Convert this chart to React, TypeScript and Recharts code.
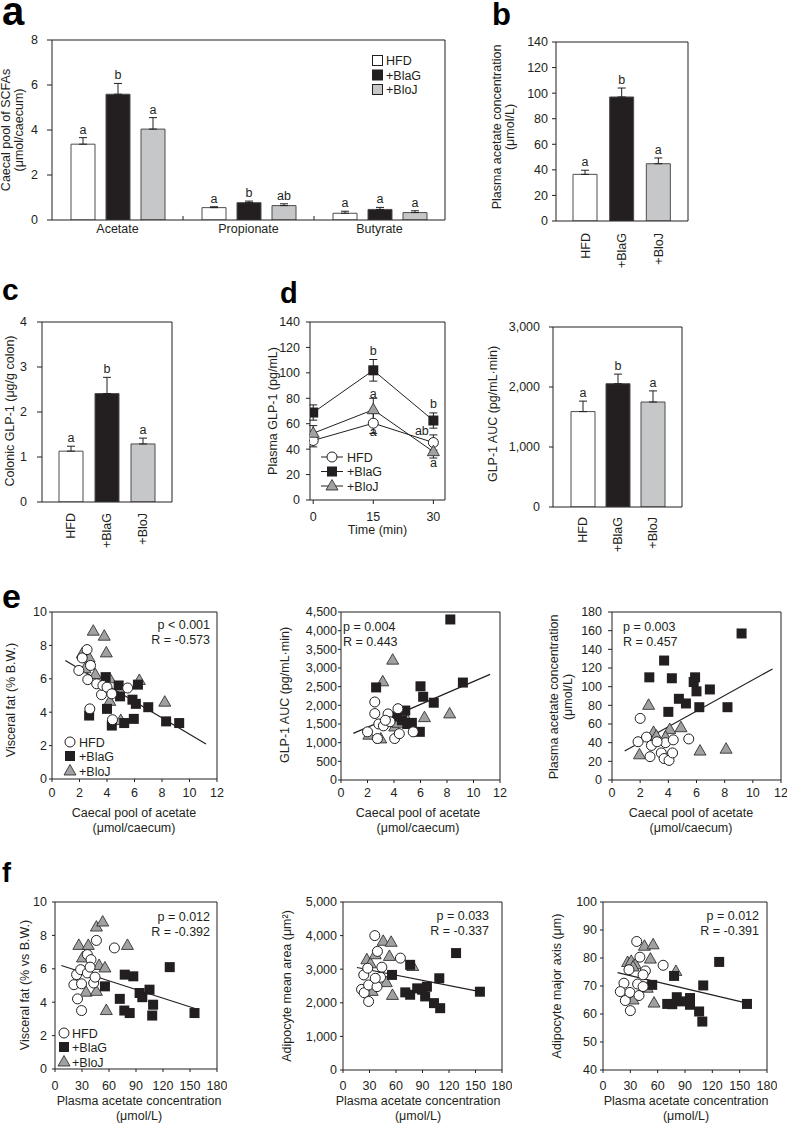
import React from "react";
import {
  Bar, BarChart, Cell, ErrorBar, LabelList, Line, LineChart,
  ReferenceLine, Scatter, ScatterChart, XAxis, YAxis,
} from "recharts";

const FONT = '"Liberation Sans", Arial, sans-serif';
const INK = "#231f20";
const FS = 12.5;
const GROUPS = ["HFD", "+BlaG", "+BloJ"];
const FILLS = ["#ffffff", "#231f20", "#c6c7c9"];
const EDGE = "#4d4d4f";
const TRI = "#a0a1a3";

// a: caecal SCFA pools (µmol/caecum)
const scfaNames = ["Acetate", "Propionate", "Butyrate"];
const scfaHfd = [3.37, 0.55, 0.3];
const scfaHfdErr = [0.29, 0.04, 0.09];
const scfaBlag = [5.59, 0.77, 0.47];
const scfaBlagErr = [0.48, 0.07, 0.09];
const scfaBloj = [4.04, 0.64, 0.33];
const scfaBlojErr = [0.51, 0.08, 0.08];
const scfaHfdLet = ["a", "a", "a"];
const scfaBlagLet = ["b", "b", "a"];
const scfaBlojLet = ["a", "ab", "a"];
const scfaTicks = [0, 2, 4, 6, 8];

// b: plasma acetate
const plasmaAc = [36.5, 97, 44.8];
const plasmaAcErr = [3.2, 7, 4.5];
const plasmaAcLet = ["a", "b", "a"];
const plasmaAcTicks = [0, 20, 40, 60, 80, 100, 120, 140];

// c: colonic GLP-1
const colonGlp = [1.13, 2.41, 1.29];
const colonGlpErr = [0.11, 0.36, 0.13];
const colonGlpLet = ["a", "b", "a"];
const colonTicks = [0, 1, 2, 3, 4];

// d: plasma GLP-1 time course + AUC
const glpTime = [0, 15, 30];
const glpHfd = [46.8, 60.4, 45.2];
const glpHfdErr = [5, 8, 6];
const glpBlag = [68.8, 102, 62.5];
const glpBlagErr = [6, 8.5, 6];
const glpBloj = [52.5, 71, 38];
const glpBlojErr = [6, 9, 5];
const glpHfdLet = ["", "a", "ab"];
const glpBlagLet = ["", "b", "b"];
const glpBlojLet = ["", "a", "a"];
const glpTicks = [0, 20, 40, 60, 80, 100, 120, 140];
const aucVals = [1590, 2055, 1750];
const aucErr = [175, 160, 185];
const aucLet = ["a", "b", "a"];
const aucTicks = [0, 1000, 2000, 3000];

// e: caecal acetate vs outcomes
const poolTicks = [0, 2, 4, 6, 8, 10, 12];
const fatTicks = [0, 2, 4, 6, 8, 10];
const e1HfdX = [1.95, 2.2, 2.55, 2.8, 2.6, 2.75, 3.25, 3.6, 3.7, 4.0, 4.35, 4.4, 5.5];
const e1HfdY = [6.5, 7.25, 7.75, 6.8, 5.95, 4.2, 5.7, 5.05, 5.6, 5.5, 5.1, 3.55, 5.45];
const e1BlagX = [2.7, 3.9, 4.0, 4.35, 4.85, 4.95, 5.25, 5.95, 5.85, 6.1, 7.0, 8.3, 9.25, 6.25];
const e1BlagY = [3.8, 6.1, 4.2, 3.2, 5.6, 4.95, 3.35, 3.6, 4.75, 4.5, 4.3, 3.45, 3.35, 5.65];
const e1BlojX = [3.0, 3.8, 3.95, 2.2, 2.7, 3.15, 4.2, 4.2, 5.0, 6.35, 8.2, 2.4];
const e1BlojY = [8.85, 8.55, 7.55, 7.5, 7.25, 6.25, 6.0, 4.65, 3.5, 5.9, 4.6, 6.6];
const e1FitX = [0.97, 11.2];
const e1FitY = [7.1, 2.1];

const aucScTicks = [0, 500, 1000, 1500, 2000, 2500, 3000, 3500, 4000, 4500];
const e2HfdX = [2.55, 2.55, 3.55, 4.3, 2.85, 3.2, 3.7, 2.0, 2.75, 4.05, 4.4, 5.45, 3.35];
const e2HfdY = [2090, 1780, 1770, 1910, 1500, 1450, 1560, 1290, 1110, 1110, 1240, 1290, 1600];
const e2BlagX = [2.65, 8.25, 6.0, 6.2, 7.0, 9.2, 4.85, 5.35, 5.95, 4.6, 5.0, 4.2];
const e2BlagY = [2480, 4300, 2510, 2230, 2070, 2610, 1860, 1530, 1290, 1600, 1500, 1700];
const e2BlojX = [3.9, 3.15, 6.3, 8.2, 5.0, 2.1, 3.0, 4.05, 4.3];
const e2BlojY = [3210, 2630, 1670, 1770, 1600, 1200, 1100, 1420, 1520];
const e2FitX = [0.93, 11.25];
const e2FitY = [1250, 2830];

const plasmaScTicks = [0, 20, 40, 60, 80, 100, 120, 140, 160, 180];
const e3HfdX = [2.0, 1.85, 2.45, 2.8, 2.7, 3.5, 3.7, 3.8, 4.05, 4.3, 4.35, 5.45, 3.2];
const e3HfdY = [66, 41, 46, 37, 25, 29, 23, 40, 21, 29, 43, 44, 41];
const e3BlagX = [2.65, 3.7, 4.25, 4.0, 4.75, 5.25, 5.9, 5.8, 6.0, 6.2, 6.95, 8.2, 9.2];
const e3BlagY = [110, 128, 109, 73, 87, 82, 110, 105, 95, 78, 97, 78, 157];
const e3BlojX = [2.6, 1.95, 2.95, 3.15, 4.1, 4.9, 3.8, 6.25, 8.1];
const e3BlojY = [80, 27, 51, 47, 54, 56, 46, 31, 33];
const e3FitX = [0.9, 11.4];
const e3FitY = [31, 119];

// f: plasma acetate vs outcomes
const acXTicks = [0, 30, 60, 90, 120, 150, 180];
const f1HfdX = [25, 29.5, 21, 24, 28.5, 36, 40, 46, 66, 29.5, 36, 43, 44.5, 39];
const f1HfdY = [4.2, 3.5, 5.05, 5.65, 5.95, 6.85, 6.55, 7.7, 7.25, 5.1, 5.75, 5.15, 5.5, 6.1];
const f1BlagX = [55.5, 72, 77.5, 87, 77, 83, 94, 97, 105, 109, 108, 127.5, 155];
const f1BlagY = [4.95, 4.2, 5.65, 5.55, 3.5, 3.35, 4.55, 4.3, 4.75, 3.85, 3.2, 6.1, 3.35];
const f1BlojX = [26.5, 37, 46, 53, 80.5, 30.5, 49, 55.5, 34.5, 46, 57];
const f1BlojY = [7.4, 7.4, 8.5, 8.8, 7.4, 6.65, 6.2, 6.05, 4.6, 4.65, 3.5];
const f1FitX = [7, 160];
const f1FitY = [6.2, 3.55];

const areaTicks = [0, 1000, 2000, 3000, 4000, 5000];
const f2HfdX = [36, 39, 65, 21, 24, 23.5, 28, 29, 29, 38.5, 42.5, 44, 36.5];
const f2HfdY = [4000, 3530, 3330, 2400, 2300, 2830, 3030, 2040, 2530, 2480, 2760, 3060, 2730];
const f2BlagX = [55.5, 76, 70.5, 76, 84, 89.5, 95, 93, 103, 110, 109, 128, 155];
const f2BlagY = [2830, 3130, 2310, 2240, 2430, 2390, 2480, 2190, 1990, 1840, 2730, 3480, 2330];
const f2BlojX = [27, 31, 36.5, 45.5, 54.5, 52.5, 33, 49, 56, 79];
const f2BlojY = [3280, 3160, 3430, 3830, 3800, 3380, 2340, 2600, 2220, 3080];
const f2FitX = [15.8, 153.6];
const f2FitY = [3050, 2340];

const axisTicks = [40, 50, 60, 70, 80, 90, 100];
const f3HfdX = [37, 40.5, 66, 28.5, 46.5, 44, 23, 19, 24.5, 29.5, 30, 39.5, 38, 44];
const f3HfdY = [85.9, 80.3, 77.4, 75.8, 75.4, 74, 71, 68, 64.8, 67.7, 61.2, 66.6, 70.7, 69.8];
const f3BlagX = [54, 78, 70.5, 76, 81, 86, 95.5, 95.5, 105.5, 109, 110, 127.5, 158];
const f3BlagY = [70.4, 73.6, 63.6, 63.5, 66, 64.5, 65.7, 63.3, 60.9, 57.3, 70.2, 78.6, 63.6];
const f3BlojX = [27, 31, 35.5, 45.5, 55, 52, 33, 48.5, 33, 56, 80];
const f3BlojY = [78.4, 78.8, 77.6, 84.2, 84.7, 79.6, 76.8, 69.2, 65, 63.9, 75.2];
const f3FitX = [16, 158];
const f3FitY = [74.8, 63.9];

// ---- layout helpers ----
type Plot = { x: number; y: number; w: number; h: number; l: number; t: number; r: number; b: number };
const W = (p: Plot) => p.w + p.l + p.r;
const H = (p: Plot) => p.h + p.t + p.b;
const lx = (p: Plot, X: number) => X - p.x + p.l;
const ly = (p: Plot, Y: number) => Y - p.y + p.t;
const LINE = { stroke: INK, strokeWidth: 1 };
const TICK = { fill: INK, fontSize: FS };
const thou = (v: number) => v.toLocaleString("en-US");
const zip = (xs: number[], ys: number[]) => xs.map((x, i) => ({ x, y: ys[i] }));
const last = (a: number[]) => a[a.length - 1];

function Holder({ p, children }: { p: Plot; children: React.ReactNode }) {
  return (
    <div style={{ position: "absolute", left: p.x - p.l, top: p.y - p.t, width: W(p), height: H(p) }}>
      {children}
      <svg width={W(p)} height={H(p)} style={{ position: "absolute", left: 0, top: 0, pointerEvents: "none" }}>
        <path d={`M${p.l} ${p.t}H${p.l + p.w}V${p.t + p.h}`} fill="none" stroke={INK} strokeWidth={1} />
      </svg>
    </div>
  );
}

const vTitle = (lines: string[], bx: number, cy: number) => () => (
  <text transform={`rotate(-90 ${bx} ${cy})`} x={bx} y={cy} textAnchor="middle" fill={INK} fontSize={FS}>
    {lines.map((s, i) => (
      <tspan key={i} x={bx} dy={i ? 13.5 : 0}>{s}</tspan>
    ))}
  </text>
);

const hTitle = (lines: string[], cx: number, by: number) => () => (
  <text x={cx} y={by} textAnchor="middle" fill={INK} fontSize={FS}>
    {lines.map((s, i) => (
      <tspan key={i} x={cx} dy={i ? 15 : 0}>{s}</tspan>
    ))}
  </text>
);

const RotTick = (props: any) => {
  const { x, y, payload } = props;
  return (
    <text x={x} y={y} transform={`rotate(-90 ${x} ${y})`} textAnchor="end" dy="0.35em" fill={INK} fontSize={FS}>
      {payload.value}
    </text>
  );
};

const barLetter = (letters: string[], vals: number[], errs: number[]) => (props: any) => {
  const vb = props.viewBox ?? {};
  const x = props.x ?? vb.x;
  const y = props.y ?? vb.y;
  const w = props.width ?? vb.width;
  const h = props.height ?? vb.height;
  const i = props.index;
  const top = y - (errs[i] * h) / vals[i];
  return (
    <text x={x + w / 2} y={top - 4} textAnchor="middle" fill={INK} fontSize={FS}>{letters[i]}</text>
  );
};

const lineLetter = (letters: string[], offs: number[][]) => (props: any) => {
  const vb = props.viewBox ?? {};
  const x = props.x ?? vb.x;
  const y = props.y ?? vb.y;
  const i = props.index;
  if (!letters[i]) return null;
  return (
    <text x={x + offs[i][0]} y={y + offs[i][1]} textAnchor="middle" fill={INK} fontSize={FS}>{letters[i]}</text>
  );
};

const circleShape = (s: any) => <circle cx={s.cx} cy={s.cy} r={5} fill="#fff" stroke={INK} strokeWidth={1} />;
const squareShape = (s: any) => <rect x={s.cx - 5} y={s.cy - 5} width={10} height={10} fill={INK} />;
const triShape = (s: any) => (
  <path
    d={`M${s.cx} ${s.cy - 6.5}L${s.cx + 6} ${s.cy + 4}L${s.cx - 6} ${s.cy + 4}Z`}
    fill={TRI} stroke={INK} strokeWidth={0.8}
  />
);
const SHAPES = [circleShape, squareShape, triShape];

// ---- panel a ----
const PA: Plot = { x: 52, y: 40, w: 393, h: 180, l: 52, t: 10, r: 12, b: 30 };
function ScfaPanel() {
  const data = scfaNames.map((name, i) => ({
    name,
    hfd: scfaHfd[i], hfdE: [0, scfaHfdErr[i]],
    blag: scfaBlag[i], blagE: [0, scfaBlagErr[i]],
    bloj: scfaBloj[i], blojE: [0, scfaBlojErr[i]],
  }));
  const series = [
    { k: "hfd", v: scfaHfd, e: scfaHfdErr, l: scfaHfdLet },
    { k: "blag", v: scfaBlag, e: scfaBlagErr, l: scfaBlagLet },
    { k: "bloj", v: scfaBloj, e: scfaBlojErr, l: scfaBlojLet },
  ];
  const p = PA;
  return (
    <Holder p={p}>
      <BarChart width={W(p)} height={H(p)} data={data} margin={{ top: p.t, right: p.r, bottom: 0, left: 0 }} barSize={24} barGap={11}>
        <XAxis dataKey="name" height={p.b} axisLine={LINE} tickLine={false} tickSize={0} tickMargin={4} tick={TICK} interval={0} />
        <YAxis
          width={p.l} domain={[0, last(scfaTicks)]} ticks={scfaTicks} interval={0} allowDataOverflow
          axisLine={LINE} tickLine={LINE} tickSize={5} tickMargin={9} tick={TICK}
          label={vTitle(["Caecal pool of SCFAs", "(μmol/caecum)"], lx(p, 9.5), ly(p, 130))}
        />
        {series.map((s, gi) => (
          <Bar key={s.k} dataKey={s.k} fill={FILLS[gi]} stroke={EDGE} strokeWidth={1} isAnimationActive={false}>
            <ErrorBar dataKey={`${s.k}E`} width={4} stroke={INK} strokeWidth={1} direction="y" />
            <LabelList dataKey={s.k} content={barLetter(s.l, s.v, s.e)} />
          </Bar>
        ))}
        {scfaNames.slice(1).map((c) => (
          <ReferenceLine key={c} segment={[{ x: c, y: 0 }, { x: c, y: 0.18 }]} position="start" stroke={INK} ifOverflow="visible" />
        ))}
      </BarChart>
    </Holder>
  );
}

// ---- three-bar panels (b, c, d right) ----
type TrioProps = {
  p: Plot; vals: number[]; errs: number[]; letters: string[]; ticks: number[];
  title: string[]; titleX: number; titleCy: number; yGap: number[]; xGap: number; pad: number;
  fmt?: (v: number) => string;
};
function Trio({ p, vals, errs, letters, ticks, title, titleX, titleCy, yGap, xGap, pad, fmt }: TrioProps) {
  const data = GROUPS.map((g, i) => ({ name: g, v: vals[i], e: [0, errs[i]] }));
  return (
    <Holder p={p}>
      <BarChart width={W(p)} height={H(p)} data={data} margin={{ top: p.t, right: p.r, bottom: 0, left: 0 }} barSize={24}>
        <XAxis
          dataKey="name" height={p.b} axisLine={LINE} tickLine={false} tickSize={0} tickMargin={xGap}
          tick={<RotTick />} interval={0} padding={{ left: pad, right: pad }}
        />
        <YAxis
          width={p.l} domain={[0, last(ticks)]} ticks={ticks} interval={0} allowDataOverflow
          axisLine={LINE} tickLine={LINE} tickSize={yGap[0]} tickMargin={yGap[1]} tick={TICK} tickFormatter={fmt}
          label={vTitle(title, lx(p, titleX), ly(p, titleCy))}
        />
        <Bar dataKey="v" stroke={EDGE} strokeWidth={1} isAnimationActive={false}>
          {data.map((_, i) => (
            <Cell key={i} fill={FILLS[i]} />
          ))}
          <ErrorBar dataKey="e" width={4} stroke={INK} strokeWidth={1} direction="y" />
          <LabelList dataKey="v" content={barLetter(letters, vals, errs)} />
        </Bar>
      </BarChart>
    </Holder>
  );
}

// ---- panel d line ----
const PDL: Plot = { x: 310, y: 322, w: 135, h: 178, l: 50, t: 10, r: 10, b: 40 };
const hfdOffs = [[0, 0], [0, 13], [-11.5, -8]];
const blagOffs = [[0, 0], [0, -15], [0, -13]];
const blojOffs = [[0, 0], [0, -12], [0, 15]];
function GlpLine() {
  const p = PDL;
  const data = glpTime.map((t, i) => ({
    t, hfd: glpHfd[i], hfdE: glpHfdErr[i], blag: glpBlag[i], blagE: glpBlagErr[i], bloj: glpBloj[i], blojE: glpBlojErr[i],
  }));
  const lines = [
    { k: "hfd", l: glpHfdLet, o: hfdOffs },
    { k: "blag", l: glpBlagLet, o: blagOffs },
    { k: "bloj", l: glpBlojLet, o: blojOffs },
  ];
  return (
    <Holder p={p}>
      <LineChart width={W(p)} height={H(p)} data={data} margin={{ top: p.t, right: p.r, bottom: 0, left: 0 }}>
        <XAxis
          dataKey="t" type="number" domain={[-0.8, 32.9]} ticks={glpTime} interval={0} allowDataOverflow height={p.b}
          axisLine={LINE} tickLine={LINE} tickSize={4} tickMargin={8} tick={TICK}
          label={hTitle(["Time (min)"], lx(p, 377.5), ly(p, 534))}
        />
        <YAxis
          width={p.l} domain={[0, last(glpTicks)]} ticks={glpTicks} interval={0} allowDataOverflow
          axisLine={LINE} tickLine={LINE} tickSize={4} tickMargin={6} tick={TICK}
          label={vTitle(["Plasma GLP-1 (pg/mL)"], lx(p, 277), ly(p, 411))}
        />
        {lines.map((s, gi) => (
          <Line
            key={s.k} dataKey={s.k} stroke={INK} strokeWidth={1} isAnimationActive={false}
            dot={(d: any) => <g key={`${s.k}${d.index}`}>{SHAPES[gi]({ cx: d.cx, cy: d.cy })}</g>}
          >
            <ErrorBar dataKey={`${s.k}E`} width={4} stroke={INK} strokeWidth={1} direction="y" />
            <LabelList dataKey={s.k} content={lineLetter(s.l, s.o)} />
          </Line>
        ))}
      </LineChart>
    </Holder>
  );
}

// ---- scatter panels ----
type Cloudy = {
  p: Plot; xTicks: number[]; yTicks: number[];
  hx: number[]; hy: number[]; gx: number[]; gy: number[]; jx: number[]; jy: number[];
  fx: number[]; fy: number[];
  yTitle: string[]; yTitleX: number; yTitleCy: number;
  xTitle: string[]; xTitleCx: number; xTitleY: number;
  yGap: number[]; xGap: number[]; yFmt?: (v: number) => string;
};
function Cloud(c: Cloudy) {
  const { p } = c;
  return (
    <Holder p={p}>
      <ScatterChart width={W(p)} height={H(p)} margin={{ top: p.t, right: p.r, bottom: 0, left: 0 }}>
        <XAxis
          type="number" dataKey="x" domain={[c.xTicks[0], last(c.xTicks)]} ticks={c.xTicks} interval={0} allowDataOverflow
          height={p.b} axisLine={LINE} tickLine={LINE} tickSize={c.xGap[0]} tickMargin={c.xGap[1]} tick={TICK}
          label={hTitle(c.xTitle, lx(p, c.xTitleCx), ly(p, c.xTitleY))}
        />
        <YAxis
          type="number" dataKey="y" width={p.l} domain={[c.yTicks[0], last(c.yTicks)]} ticks={c.yTicks} interval={0} allowDataOverflow
          axisLine={LINE} tickLine={LINE} tickSize={c.yGap[0]} tickMargin={c.yGap[1]} tick={TICK} tickFormatter={c.yFmt}
          label={vTitle(c.yTitle, lx(p, c.yTitleX), ly(p, c.yTitleCy))}
        />
        <ReferenceLine
          segment={[{ x: c.fx[0], y: c.fy[0] }, { x: c.fx[1], y: c.fy[1] }]}
          stroke={INK} strokeWidth={1.2} ifOverflow="visible"
        />
        <Scatter data={zip(c.jx, c.jy)} shape={triShape} isAnimationActive={false} />
        <Scatter data={zip(c.gx, c.gy)} shape={squareShape} isAnimationActive={false} />
        <Scatter data={zip(c.hx, c.hy)} shape={circleShape} isAnimationActive={false} />
      </ScatterChart>
    </Holder>
  );
}

// ---- overlay text: panel tags, statistics, legends ----
const TAGS = [
  { s: "a", x: 2, y: 25, f: 40 },
  { s: "b", x: 492, y: 25, f: 31 },
  { s: "c", x: 2, y: 300, f: 30 },
  { s: "d", x: 280, y: 303, f: 29 },
  { s: "e", x: 2, y: 608, f: 34 },
  { s: "f", x: 2, y: 882, f: 27 },
];
const STATS = [
  { l: ["p < 0.001", "R = -0.573"], x: 210, y: 629, a: "end" },
  { l: ["p = 0.004", "R = 0.443"], x: 343, y: 631, a: "start" },
  { l: ["p = 0.003", "R = 0.457"], x: 623, y: 631, a: "start" },
  { l: ["p = 0.012", "R = -0.392"], x: 210, y: 921, a: "end" },
  { l: ["p = 0.033", "R = -0.337"], x: 489, y: 920, a: "end" },
  { l: ["p = 0.012", "R = -0.391"], x: 759, y: 920, a: "end" },
];
const KEYS = [
  { x: 70, ys: [742, 756, 771], tx: 79, line: 0 },
  { x: 64, ys: [1033, 1047, 1062], tx: 72, line: 0 },
  { x: 332, ys: [457, 471.5, 486], tx: 347, line: 11 },
];

function Overlay() {
  return (
    <svg width={787} height={1126} style={{ position: "absolute", left: 0, top: 0, pointerEvents: "none" }} fontFamily={FONT}>
      {TAGS.map((t) => (
        <text key={t.s} x={t.x} y={t.y} fontSize={t.f} fontWeight="bold" fill="#000">{t.s}</text>
      ))}
      {STATS.map((s, i) => (
        <text key={i} x={s.x} y={s.y} textAnchor={s.a as any} fontSize={FS} fill={INK}>
          {s.l.map((t, j) => (
            <tspan key={j} x={s.x} dy={j ? 14.5 : 0}>{t}</tspan>
          ))}
        </text>
      ))}
      {KEYS.map((k, ki) => (
        <g key={ki}>
          {GROUPS.map((g, i) => (
            <g key={g}>
              {k.line > 0 && <line x1={k.x - k.line} x2={k.x + k.line} y1={k.ys[i]} y2={k.ys[i]} stroke={INK} strokeWidth={1} />}
              {SHAPES[i]({ cx: k.x, cy: k.ys[i] })}
              <text x={k.tx} y={k.ys[i] + 4.5} fontSize={FS} fill={INK}>{g}</text>
            </g>
          ))}
        </g>
      ))}
      {GROUPS.map((g, i) => (
        <g key={g}>
          <rect x={372.5} y={55.5 + i * 14.5} width={10} height={10} fill={FILLS[i]} stroke={INK} strokeWidth={1} />
          <text x={386} y={65 + i * 14.5} fontSize={FS} fill={INK}>{g}</text>
        </g>
      ))}
    </svg>
  );
}

export default function App() {
  return (
    <div style={{ position: "absolute", left: 0, top: 0, width: 787, height: 1126, background: "#fff", fontFamily: FONT, overflow: "hidden" }}>
      <ScfaPanel />
      <Trio
        p={{ x: 556, y: 42, w: 132, h: 179, l: 72, t: 10, r: 10, b: 50 }}
        vals={plasmaAc} errs={plasmaAcErr} letters={plasmaAcLet} ticks={plasmaAcTicks}
        title={["Plasma acetate concentration", "(μmol/L)"]} titleX={500.5} titleCy={127}
        yGap={[4, 4]} xGap={12} pad={11}
      />
      <Trio
        p={{ x: 42, y: 322, w: 130, h: 180, l: 42, t: 10, r: 10, b: 50 }}
        vals={colonGlp} errs={colonGlpErr} letters={colonGlpLet} ticks={colonTicks}
        title={["Colonic GLP-1 (μg/g colon)"]} titleX={14} titleCy={411}
        yGap={[5, 10]} xGap={11} pad={11}
      />
      <GlpLine />
      <Trio
        p={{ x: 553, y: 327, w: 129, h: 180, l: 72, t: 10, r: 10, b: 50 }}
        vals={aucVals} errs={aucErr} letters={aucLet} ticks={aucTicks}
        title={["GLP-1 AUC (pg/mL·min)"]} titleX={497} titleCy={414}
        yGap={[4, 9]} xGap={10} pad={12} fmt={thou}
      />
      <Cloud
        p={{ x: 52, y: 612, w: 165, h: 167, l: 52, t: 10, r: 10, b: 60 }}
        xTicks={poolTicks} yTicks={fatTicks}
        hx={e1HfdX} hy={e1HfdY} gx={e1BlagX} gy={e1BlagY} jx={e1BlojX} jy={e1BlojY} fx={e1FitX} fy={e1FitY}
        yTitle={["Visceral fat (% B.W.)"]} yTitleX={15} yTitleCy={700}
        xTitle={["Caecal pool of acetate", "(μmol/caecum)"]} xTitleCx={134} xTitleY={817}
        yGap={[3, 2]} xGap={[3, 6]}
      />
      <Cloud
        p={{ x: 341, y: 612, w: 159, h: 168, l: 74, t: 10, r: 10, b: 60 }}
        xTicks={poolTicks} yTicks={aucScTicks}
        hx={e2HfdX} hy={e2HfdY} gx={e2BlagX} gy={e2BlagY} jx={e2BlojX} jy={e2BlojY} fx={e2FitX} fy={e2FitY}
        yTitle={["GLP-1 AUC (pg/mL·min)"]} yTitleX={289} yTitleCy={695}
        xTitle={["Caecal pool of acetate", "(μmol/caecum)"]} xTitleCx={418} xTitleY={817}
        yGap={[3, 1]} xGap={[3, 5]} yFmt={thou}
      />
      <Cloud
        p={{ x: 612, y: 612, w: 169, h: 168, l: 74, t: 10, r: 6, b: 60 }}
        xTicks={poolTicks} yTicks={plasmaScTicks}
        hx={e3HfdX} hy={e3HfdY} gx={e3BlagX} gy={e3BlagY} jx={e3BlojX} jy={e3BlojY} fx={e3FitX} fy={e3FitY}
        yTitle={["Plasma acetate concentration", "(μmol/L)"]} yTitleX={558} yTitleCy={697}
        xTitle={["Caecal pool of acetate", "(μmol/caecum)"]} xTitleCx={691} xTitleY={817}
        yGap={[4, 6]} xGap={[3, 5]}
      />
      <Cloud
        p={{ x: 55, y: 902, w: 162, h: 167, l: 55, t: 10, r: 10, b: 57 }}
        xTicks={acXTicks} yTicks={fatTicks}
        hx={f1HfdX} hy={f1HfdY} gx={f1BlagX} gy={f1BlagY} jx={f1BlojX} jy={f1BlojY} fx={f1FitX} fy={f1FitY}
        yTitle={["Visceral fat (% vs B.W.)"]} yTitleX={29} yTitleCy={985}
        xTitle={["Plasma acetate concentration", "(μmol/L)"]} xTitleCx={139} xTitleY={1105}
        yGap={[3, 5]} xGap={[3, 9]}
      />
      <Cloud
        p={{ x: 343, y: 902, w: 159, h: 168, l: 74, t: 10, r: 10, b: 56 }}
        xTicks={acXTicks} yTicks={areaTicks}
        hx={f2HfdX} hy={f2HfdY} gx={f2BlagX} gy={f2BlagY} jx={f2BlojX} jy={f2BlojY} fx={f2FitX} fy={f2FitY}
        yTitle={["Adipocyte mean area (μm²)"]} yTitleX={291} yTitleCy={986}
        xTitle={["Plasma acetate concentration", "(μmol/L)"]} xTitleCx={418} xTitleY={1105}
        yGap={[3, 3]} xGap={[3, 8]} yFmt={thou}
      />
      <Cloud
        p={{ x: 603, y: 902, w: 164, h: 168, l: 74, t: 10, r: 10, b: 56 }}
        xTicks={acXTicks} yTicks={axisTicks}
        hx={f3HfdX} hy={f3HfdY} gx={f3BlagX} gy={f3BlagY} jx={f3BlojX} jy={f3BlojY} fx={f3FitX} fy={f3FitY}
        yTitle={["Adipocyte major axis (μm)"]} yTitleX={561} yTitleCy={986}
        xTitle={["Plasma acetate concentration", "(μmol/L)"]} xTitleCx={686} xTitleY={1105}
        yGap={[3, 3]} xGap={[3, 8]}
      />
      <Overlay />
    </div>
  );
}
